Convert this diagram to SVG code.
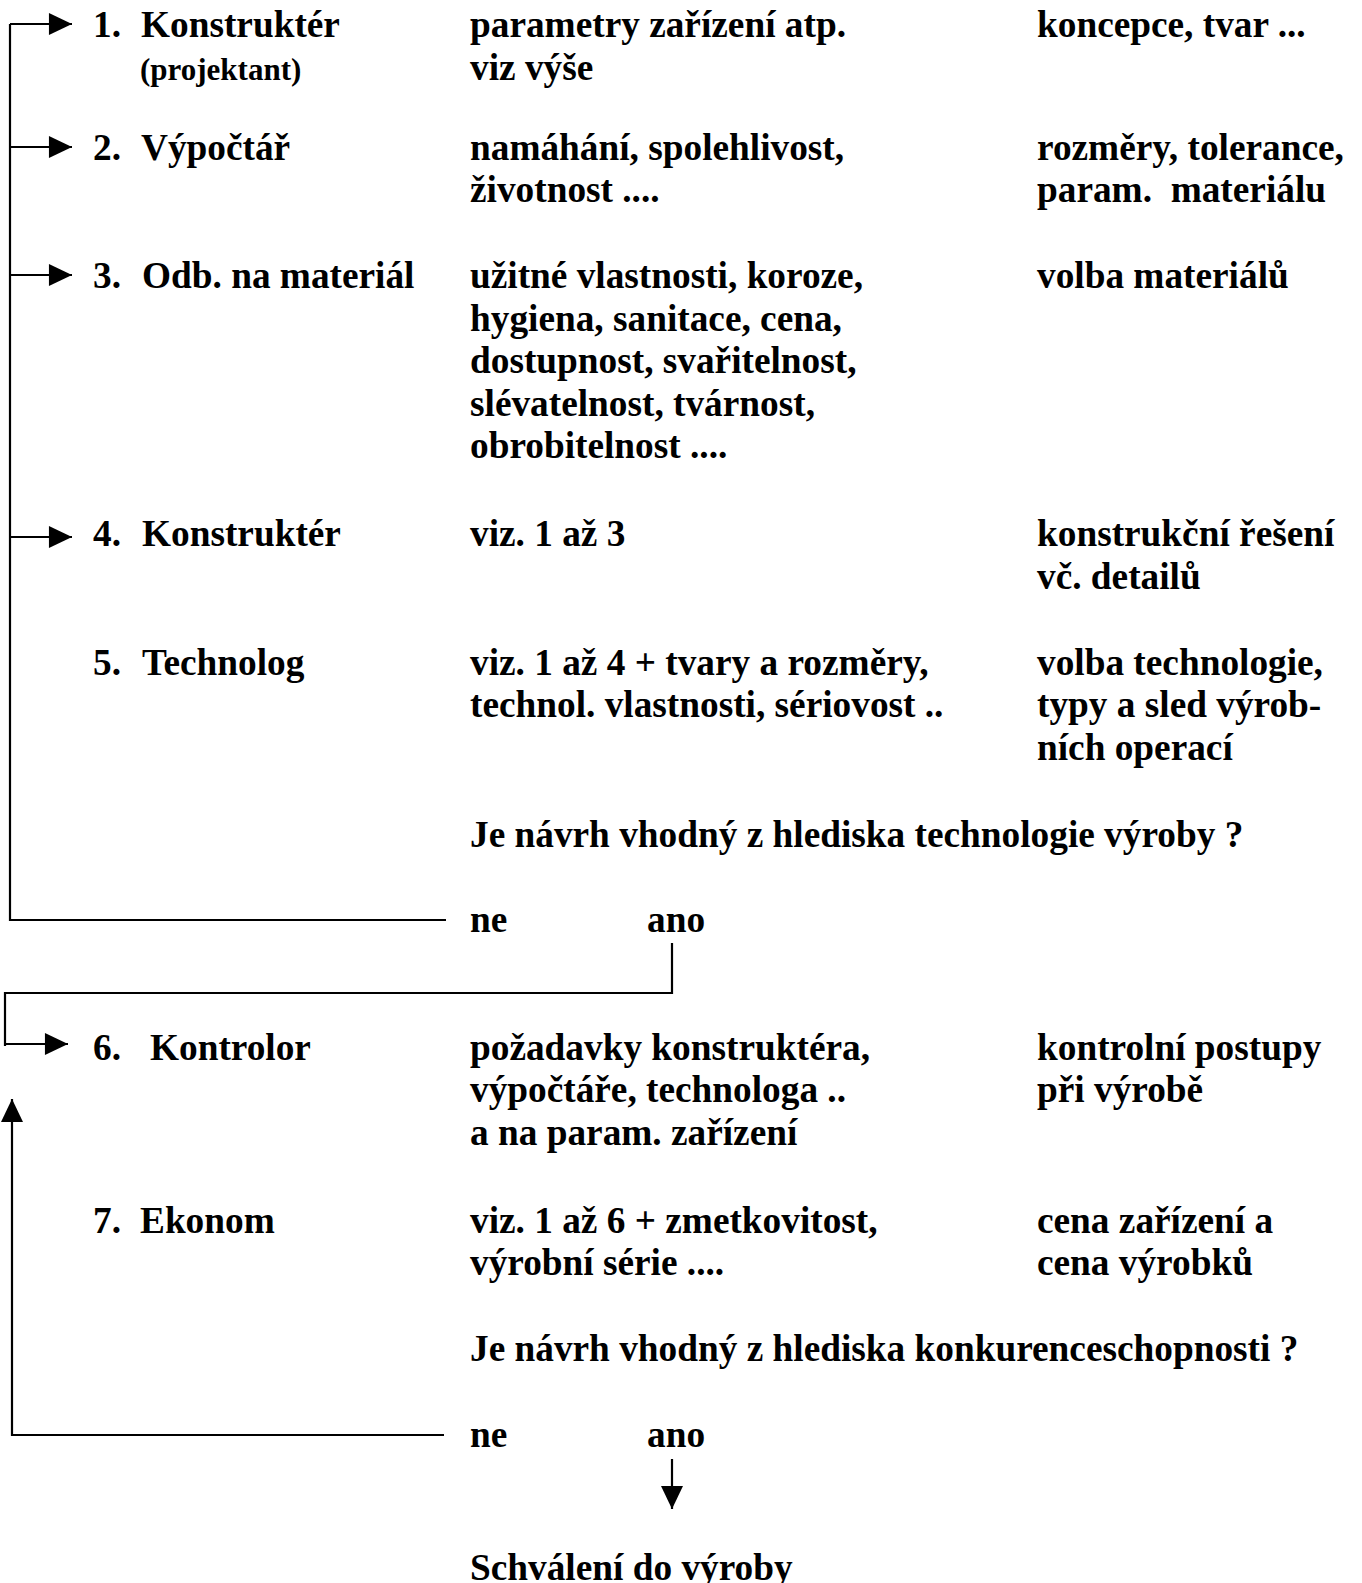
<svg xmlns="http://www.w3.org/2000/svg" width="1362" height="1583" viewBox="0 0 1362 1583">
<style>
text{font-family:"Liberation Serif","Times New Roman",serif;font-weight:bold;font-size:37.3px;fill:#000;white-space:pre}
.s{font-size:31px}
.ln{fill:none;stroke:#000;stroke-width:2.2}
</style>
<defs>
<marker id="ah" markerUnits="userSpaceOnUse" markerWidth="24" markerHeight="22" refX="22" refY="10.5" orient="auto" viewBox="0 0 22 21">
<path d="M0,0 L22,10.5 L0,21 Z" fill="#000"/>
</marker>
</defs>
<rect width="1362" height="1583" fill="#fff"/>
<g id="connectors">
<polyline class="ln" points="10,24 10,920 446,920"/>
<line class="ln" x1="10" y1="24" x2="72" y2="24" marker-end="url(#ah)"/>
<line class="ln" x1="10" y1="147" x2="72" y2="147" marker-end="url(#ah)"/>
<line class="ln" x1="10" y1="275" x2="72" y2="275" marker-end="url(#ah)"/>
<line class="ln" x1="10" y1="537" x2="72" y2="537" marker-end="url(#ah)"/>
<polyline class="ln" points="672,943 672,993 5,993 5,1046"/>
<line class="ln" x1="5" y1="1044" x2="68" y2="1044" marker-end="url(#ah)"/>
<polyline class="ln" points="444,1435 12,1435 12,1099" marker-end="url(#ah)"/>
<line class="ln" x1="672" y1="1459" x2="672" y2="1509" marker-end="url(#ah)"/>
</g>
<g id="n1">
<text x="93" y="37">1.</text><text x="141" y="37">Konstruktér</text>
<text class="s" x="140" y="80">(projektant)</text>
<text x="470" y="37">parametry zařízení atp.</text>
<text x="470" y="80">viz výše</text>
<text x="1037" y="37">koncepce, tvar ...</text>
</g>
<g id="n2">
<text x="93" y="160">2.</text><text x="141" y="160">Výpočtář</text>
<text x="470" y="160">namáhání, spolehlivost,</text>
<text x="470" y="202">životnost ....</text>
<text x="1037" y="160">rozměry, tolerance,</text>
<text x="1037" y="202">param.  materiálu</text>
</g>
<g id="n3">
<text x="93" y="288">3.</text><text x="142" y="288">Odb. na materiál</text>
<text x="470" y="288">užitné vlastnosti, koroze,</text>
<text x="470" y="331">hygiena, sanitace, cena,</text>
<text x="470" y="373">dostupnost, svařitelnost,</text>
<text x="470" y="416">slévatelnost, tvárnost,</text>
<text x="470" y="458">obrobitelnost ....</text>
<text x="1037" y="288">volba materiálů</text>
</g>
<g id="n4">
<text x="93" y="546">4.</text><text x="142" y="546">Konstruktér</text>
<text x="470" y="546">viz. 1 až 3</text>
<text x="1037" y="546">konstrukční řešení</text>
<text x="1037" y="589">vč. detailů</text>
</g>
<g id="n5">
<text x="93" y="675">5.</text><text x="142" y="675">Technolog</text>
<text x="470" y="675">viz. 1 až 4 + tvary a rozměry,</text>
<text x="470" y="717">technol. vlastnosti, sériovost ..</text>
<text x="1037" y="675">volba technologie,</text>
<text x="1037" y="717">typy a sled výrob-</text>
<text x="1037" y="760">ních operací</text>
</g>
<g id="q1">
<text x="470" y="847">Je návrh vhodný z hlediska technologie výroby ?</text>
<text x="470" y="932">ne</text>
<text x="647" y="932">ano</text>
</g>
<g id="n6">
<text x="93" y="1060">6.</text><text x="150" y="1060">Kontrolor</text>
<text x="470" y="1060">požadavky konstruktéra,</text>
<text x="470" y="1102">výpočtáře, technologa ..</text>
<text x="470" y="1145">a na param. zařízení</text>
<text x="1037" y="1060">kontrolní postupy</text>
<text x="1037" y="1102">při výrobě</text>
</g>
<g id="n7">
<text x="93" y="1233">7.</text><text x="140" y="1233">Ekonom</text>
<text x="470" y="1233">viz. 1 až 6 + zmetkovitost,</text>
<text x="470" y="1275">výrobní série ....</text>
<text x="1037" y="1233">cena zařízení a</text>
<text x="1037" y="1275">cena výrobků</text>
</g>
<g id="q2">
<text x="470" y="1361">Je návrh vhodný z hlediska konkurenceschopnosti ?</text>
<text x="470" y="1447">ne</text>
<text x="647" y="1447">ano</text>
</g>
<g id="end">
<text x="470" y="1580">Schválení do výroby</text>
</g>
</svg>
